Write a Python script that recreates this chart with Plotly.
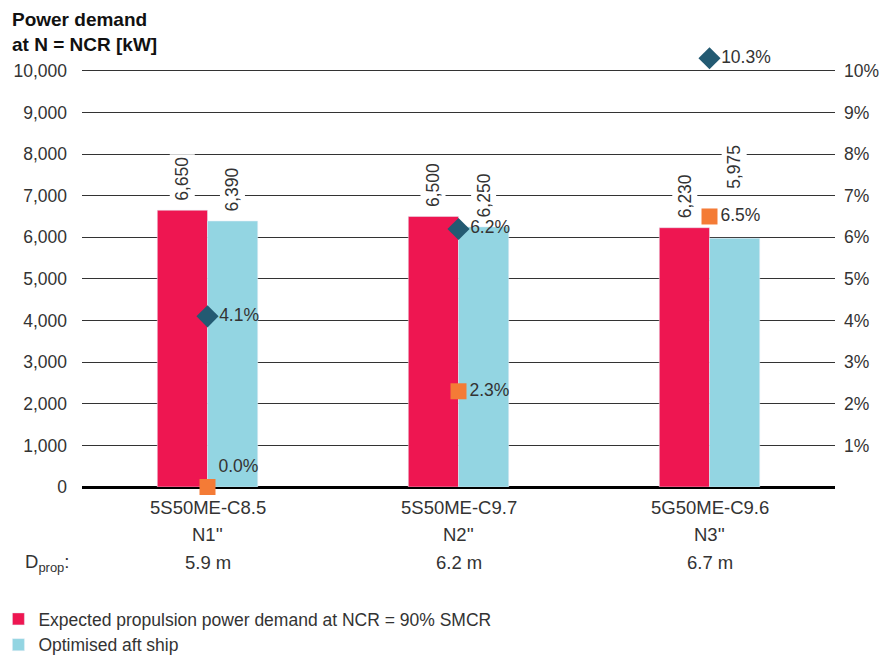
import plotly.graph_objects as go

engines = ["5S50ME-C8.5", "5S50ME-C9.7", "5G50ME-C9.6"]
speeds = ["N1''", "N2''", "N3''"]
prop_diam = ["5.9 m", "6.2 m", "6.7 m"]
expected_kw = [6650, 6500, 6230]
optimised_kw = [6390, 6250, 5975]
diamond_pct = [4.1, 6.2, 10.3]
square_pct = [0.0, 2.3, 6.5]

RED = "#ee1651"
BLUE = "#93d5e2"
NAVY = "#235a72"
ORANGE = "#f47b36"
TXT = "#333333"
FONT = "Liberation Sans"
FS = 17.5

fig = go.Figure()
fig.add_trace(go.Bar(x=engines, y=expected_kw, name="Expected propulsion power demand at NCR = 90% SMCR",
                     marker_color=RED))
fig.add_trace(go.Bar(x=engines, y=optimised_kw, name="Optimised aft ship", marker_color=BLUE))
fig.add_trace(go.Scatter(x=engines, y=diamond_pct, yaxis="y2", mode="markers+text",
                         marker=dict(symbol="diamond", size=17, color=NAVY),
                         text=[f"{v:.1f}%" for v in diamond_pct], textposition="middle right",
                         textfont=dict(size=FS, color=TXT), showlegend=False, cliponaxis=False))
fig.add_trace(go.Scatter(x=engines, y=square_pct, yaxis="y2", mode="markers+text",
                         marker=dict(symbol="square", size=16, color=ORANGE),
                         text=[f"{v:.1f}%" for v in square_pct],
                         textposition=["top right", "middle right", "middle right"],
                         textfont=dict(size=FS, color=TXT), showlegend=False, cliponaxis=False))

# rotated value labels above the bars, white box breaks the gridlines
for i, cat in enumerate(engines):
    for val, shift in ((expected_kw[i], -25), (optimised_kw[i], 25)):
        lift = 46 if (i == 2 and shift > 0) else 6  # 5,975 sits above the 6.5% marker
        fig.add_annotation(x=cat, y=val, xshift=shift, yshift=lift, text=f"{val:,}", textangle=-90,
                           showarrow=False, xanchor="center", yanchor="bottom", bgcolor="white",
                           font=dict(size=FS, color=TXT), borderpad=2)
    for line, ypos in ((engines[i], -0.048), (speeds[i], -0.1098), (prop_diam[i], -0.1739)):
        fig.add_annotation(x=cat, y=ypos, yref="paper", yanchor="middle", text=line, showarrow=False,
                           font=dict(size=18.5, color=TXT))

fig.add_annotation(x=-0.078, xref="paper", y=-0.1739, yref="paper", yanchor="middle",
                   text="D<sub>prop</sub>:", showarrow=False, xanchor="left", font=dict(size=18.5, color=TXT))
fig.add_annotation(x=-0.0956, xref="paper", y=1.0995, yref="paper", xanchor="left", yanchor="top",
                   align="left", showarrow=False, text="<b>Power demand<br>at N = NCR [kW]</b>",
                   font=dict(size=19, color="#111111"))

# the page body has an 8px margin, so the figure is sized 8px smaller
fig.update_layout(
    width=885, height=648,
    margin=dict(l=74, r=58, t=42, b=169, autoexpand=False),
    plot_bgcolor="white", paper_bgcolor="white",
    font=dict(family=FONT, size=FS, color=TXT),
    barmode="group", bargap=0.6, bargroupgap=0,
    xaxis=dict(showticklabels=False, showgrid=False, zeroline=False, showline=False),
    yaxis=dict(range=[0, 10500], tickvals=list(range(0, 10001, 1000)), tickformat=",d", showgrid=True,
               gridcolor="#333333", gridwidth=1, zeroline=True, zerolinecolor="black", zerolinewidth=3,
               ticks="", ticklabelstandoff=14, tickfont=dict(size=FS, color=TXT)),
    yaxis2=dict(range=[0, 10.5], overlaying="y", side="right", tickvals=list(range(1, 11)),
                ticktext=[f"{v}%" for v in range(1, 11)], showgrid=False, zeroline=False,
                ticklabelstandoff=8, tickfont=dict(size=FS, color=TXT)),
    legend=dict(xref="paper", yref="container", x=-0.111, y=1 - 593 / 648, xanchor="left",
                yanchor="top", font=dict(size=FS, color=TXT), itemwidth=30),
)

fig.write_html("out.html")
